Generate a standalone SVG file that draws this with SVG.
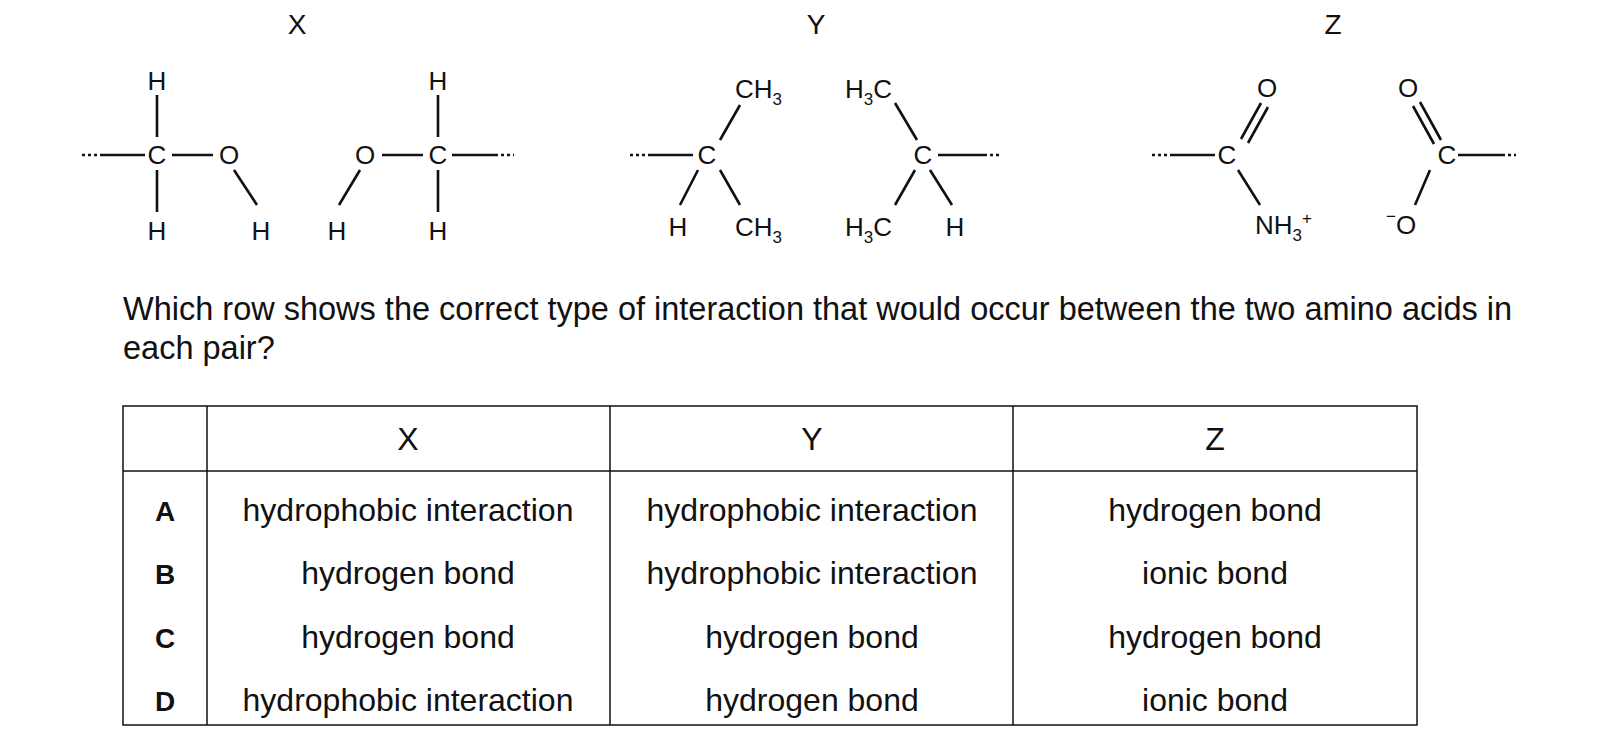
<svg xmlns="http://www.w3.org/2000/svg" width="1605" height="744" viewBox="0 0 1605 744">
<style>
text{font-family:"Liberation Sans",Arial,sans-serif;fill:#111;}
.a{font-size:26px;text-anchor:middle}
.s{font-size:17px}
.b{stroke:#111;stroke-width:2.6;fill:none}
.d{stroke:#111;stroke-width:2.6;stroke-dasharray:3 3;fill:none}
.t{font-size:32px;text-anchor:middle}
.q{font-size:32.5px}
</style>
<rect width="1605" height="744" fill="#fff"/>
<g id="headings">
<text class="a" x="297" y="34" style="font-size:28px">X</text>
<text class="a" x="816" y="34" style="font-size:28px">Y</text>
<text class="a" x="1333" y="34" style="font-size:28px">Z</text>
</g>
<g id="moleculeX">
<text class="a" x="157" y="90">H</text>
<text class="a" x="157" y="164">C</text>
<text class="a" x="157" y="240">H</text>
<text class="a" x="229" y="164">O</text>
<text class="a" x="261" y="240">H</text>
<text class="a" x="365" y="164">O</text>
<text class="a" x="438" y="164">C</text>
<text class="a" x="438" y="90">H</text>
<text class="a" x="438" y="240">H</text>
<text class="a" x="337" y="240">H</text>
<path class="d" d="M82 155H100M495 155H514"/>
<path class="b" d="M100 155H145M172 155H213M157 95V137M157 170V212M234 170L257 205M382 155H423M452 155H495M438 95V137M438 170V212M360 170L339 205"/>
</g>
<g id="moleculeY">
<text class="a" x="707" y="164">C</text>
<text class="a" x="923" y="164">C</text>
<text class="a" x="678" y="236">H</text>
<text class="a" x="955" y="236">H</text>
<text x="735" y="98" style="font-size:26px">CH<tspan class="s" dy="7">3</tspan></text>
<text x="735" y="236" style="font-size:26px">CH<tspan class="s" dy="7">3</tspan></text>
<text x="845" y="98" style="font-size:26px">H<tspan class="s" dy="7">3</tspan><tspan dy="-7">C</tspan></text>
<text x="845" y="236" style="font-size:26px">H<tspan class="s" dy="7">3</tspan><tspan dy="-7">C</tspan></text>
<path class="d" d="M630 155H650M984 155H1002"/>
<path class="b" d="M650 155H693M720 140L740 105M698 170L680 205M720 170L740 205M895 103L917 140M938 155H984M915 170L895 205M930 170L952 205"/>
</g>
<g id="moleculeZ">
<text class="a" x="1227" y="164">C</text>
<text class="a" x="1267" y="97">O</text>
<text class="a" x="1447" y="164">C</text>
<text class="a" x="1408" y="97">O</text>
<text x="1255" y="234" style="font-size:26px">NH<tspan class="s" dy="7">3</tspan><tspan class="s" dy="-17">+</tspan></text>
<text x="1386" y="222" class="s">−</text>
<text class="a" x="1406" y="234">O</text>
<path class="d" d="M1152 155H1172M1502 155H1516"/>
<path class="b" d="M1172 155H1215M1241 139L1261 103M1248 143L1268 107M1238 170L1260 205M1458 155H1502M1441 140L1420 102M1434 144L1413 106M1430 170L1415 205"/>
</g>
<g id="question">
<text class="q" x="123" y="320">Which row shows the correct type of interaction that would occur between the two amino acids in</text>
<text class="q" x="123" y="359">each pair?</text>
</g>
<g id="table">
<rect x="123" y="406" width="1294" height="319" fill="none" stroke="#111" stroke-width="1.5"/>
<path d="M207 406V725M610 406V725M1013 406V725M123 471H1417" stroke="#111" stroke-width="1.5"/>
<text class="t" x="408" y="450">X</text>
<text class="t" x="812" y="450">Y</text>
<text class="t" x="1215" y="450">Z</text>
<text class="t" x="165" y="521" style="font-weight:bold;font-size:28px">A</text>
<text class="t" x="165" y="584" style="font-weight:bold;font-size:28px">B</text>
<text class="t" x="165" y="648" style="font-weight:bold;font-size:28px">C</text>
<text class="t" x="165" y="711" style="font-weight:bold;font-size:28px">D</text>
<text class="t" x="408" y="521">hydrophobic interaction</text>
<text class="t" x="812" y="521">hydrophobic interaction</text>
<text class="t" x="1215" y="521">hydrogen bond</text>
<text class="t" x="408" y="584">hydrogen bond</text>
<text class="t" x="812" y="584">hydrophobic interaction</text>
<text class="t" x="1215" y="584">ionic bond</text>
<text class="t" x="408" y="648">hydrogen bond</text>
<text class="t" x="812" y="648">hydrogen bond</text>
<text class="t" x="1215" y="648">hydrogen bond</text>
<text class="t" x="408" y="711">hydrophobic interaction</text>
<text class="t" x="812" y="711">hydrogen bond</text>
<text class="t" x="1215" y="711">ionic bond</text>
</g>
</svg>
